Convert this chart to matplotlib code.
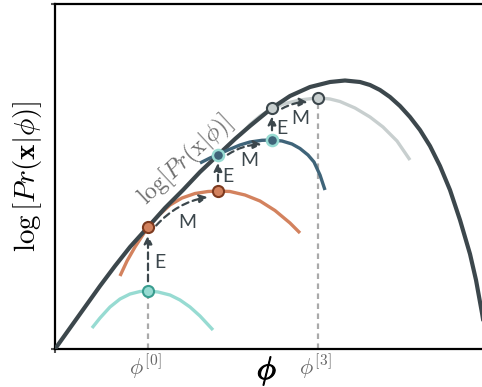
import numpy as np
import matplotlib
matplotlib.use("Agg")
import matplotlib.pyplot as plt
import matplotlib.patheffects as pe

plt.rcParams['mathtext.fontset'] = 'cm'

# log likelihood curve
phi_main = [0, .15, .30, .45, .60, .75, .93, 1.10, 1.28, 1.45, 1.63, 1.80, 1.95, 2.17, 2.35,
            2.55, 2.75, 2.90, 3.05, 3.15, 3.25, 3.35, 3.45, 3.55, 3.65, 3.75, 3.85, 3.95,
            4.05, 4.15, 4.21, 4.27, 4.33]
ll_main = [0, .21, .42, .63, .83, 1.02, 1.22, 1.41, 1.59, 1.77, 1.94, 2.10, 2.23, 2.41, 2.53,
           2.62, 2.67, 2.685, 2.67, 2.64, 2.59, 2.52, 2.43, 2.32, 2.19, 2.03, 1.83, 1.59,
           1.29, 0.95, 0.69, 0.36, 0.0]

# lower bounds for each iteration
phi_lb0 = [.37, .45, .55, .65, .75, .85, .93, 1.03, 1.15, 1.25, 1.35, 1.45, 1.58]
lb0 = [.21, .31, .42, .50, .55, .575, .58, .57, .54, .49, .42, .33, .19]
phi_lb1 = [.65, .72, .80, .93, 1.03, 1.15, 1.27, 1.40, 1.53, 1.63, 1.75, 1.90, 2.05, 2.20, 2.35, 2.45]
lb1 = [.73, .88, 1.02, 1.22, 1.33, 1.44, 1.51, 1.555, 1.575, 1.58, 1.575, 1.54, 1.48, 1.385, 1.26, 1.16]
phi_lb2 = [1.45, 1.55, 1.63, 1.73, 1.85, 1.95, 2.07, 2.17, 2.27, 2.37, 2.45, 2.53, 2.59, 2.65, 2.70]
lb2 = [1.86, 1.91, 1.945, 1.99, 2.04, 2.07, 2.087, 2.09, 2.08, 2.05, 2.005, 1.94, 1.87, 1.74, 1.59]
phi_lb3 = [1.85, 1.95, 2.05, 2.17, 2.30, 2.45, 2.57, 2.65, 2.75, 2.85, 3.00, 3.15, 3.28, 3.42, 3.55]
lb3 = [2.14, 2.245, 2.33, 2.405, 2.455, 2.49, 2.505, 2.51, 2.50, 2.475, 2.41, 2.32, 2.22, 2.08, 1.89]

# EM iterates
phi_iter = [0.93, 1.63, 2.17, 2.63]
lb_at_iter = [0.58, 1.58, 2.09, 2.51]   # bound value after M step
ll_at_iter = [1.22, 1.945, 2.41]        # after E step (touches curve)

dark = '#3c474c'
teal, teal_e = '#97dbd2', '#3a9d8f'
orange, orange_e = '#d3825e', '#7d3a1f'
blue = '#3f6479'
lgray = '#c8cfcf'

fig = plt.figure(figsize=(4.82, 3.87), dpi=100)
ax = fig.add_axes([55/482, 38/387, 440/482, 345/387])
ax.set_xlim(0, 4.40)
ax.set_ylim(0, 3.45)

# dotted guides
ax.plot([phi_iter[0]]*2, [0, lb_at_iter[0]], ls=(0, (2.5, 2)), color='#aaaaaa', lw=1.6, zorder=1)
ax.plot([phi_iter[3]]*2, [0, lb_at_iter[3]], ls=(0, (2.5, 2)), color='#aaaaaa', lw=1.6, zorder=1)

lkw = dict(lw=2.4, solid_capstyle='butt', solid_joinstyle='round')
ax.plot(phi_lb0, lb0, color=teal, zorder=2, **lkw)
ax.plot(phi_lb1, lb1, color=orange, zorder=2, **lkw)
ax.plot(phi_lb3, lb3, color=lgray, zorder=2, **lkw)
ax.plot(phi_main, ll_main, color=dark, lw=3, solid_joinstyle='round', zorder=3)
ax.plot(phi_lb2, lb2, color=blue, zorder=3.5, **lkw)

# arrows
aprops = dict(arrowstyle='-|>', linestyle=(0, (3, 2)), lw=1.6, color=dark,
              mutation_scale=12, shrinkA=7, shrinkB=6)
for i in range(3):
    # E step: straight up
    ax.annotate('', xy=(phi_iter[i], ll_at_iter[i]), xytext=(phi_iter[i], lb_at_iter[i]),
                arrowprops=aprops, zorder=4)
    # M step: curved along the bound
    ax.annotate('', xy=(phi_iter[i+1] - 0.02, lb_at_iter[i+1] - 0.05),
                xytext=(phi_iter[i] + 0.02, ll_at_iter[i] - 0.06),
                arrowprops=dict(aprops, connectionstyle='arc3,rad=-0.22'), zorder=4)

e_pos = [(1.05, 0.87), (1.73, 1.73), (2.27, 2.21)]
m_pos = [(1.32, 1.27), (1.94, 1.89), (2.45, 2.31)]
for (x, y) in e_pos:
    ax.text(x, y, 'E', color=dark, fontsize=14, family='Lato', ha='center', va='center', zorder=5)
for (x, y) in m_pos:
    ax.text(x, y, 'M', color=dark, fontsize=14, family='Lato', ha='center', va='center', zorder=5)

# points
ms = 8
ax.plot(phi_iter[0], lb_at_iter[0], 'o', ms=ms, mfc=teal, mec=teal_e, mew=1.5, zorder=6)
ax.plot(phi_iter[0], ll_at_iter[0], 'o', ms=ms, mfc=orange, mec=orange_e, mew=1.5, zorder=6)
ax.plot(phi_iter[1], lb_at_iter[1], 'o', ms=ms, mfc=orange, mec=orange_e, mew=1.5, zorder=6)
ax.plot(phi_iter[1], ll_at_iter[1], 'o', ms=ms, mfc=blue, mec=teal, mew=1.8, zorder=6)
ax.plot(phi_iter[2], lb_at_iter[2], 'o', ms=ms, mfc=blue, mec=teal, mew=1.8, zorder=6)
ax.plot(phi_iter[2], ll_at_iter[2], 'o', ms=ms, mfc=lgray, mec=dark, mew=1.5, zorder=6)
ax.plot(phi_iter[3], lb_at_iter[3], 'o', ms=ms, mfc=lgray, mec=dark, mew=1.5, zorder=6)

ax.text(1.31, 1.88, r'$\log[Pr(\mathrm{x}|\phi)]$', rotation=43, color='#6e6e6e',
        fontsize=17, ha='center', va='center', zorder=5)

# axes styling
for s in ['left', 'bottom', 'top', 'right']:
    ax.spines[s].set_linewidth(1.6)
    ax.spines[s].set_color('black')
ax.set_xticks([0])
ax.set_yticks([0, 3.45])
ax.set_xticklabels([])
ax.set_yticklabels([])
ax.tick_params(length=3, width=1.5, color='#555555')

ax.text(phi_iter[0] - 0.03, -0.18, r'$\phi^{[0]}$', color='#666666', fontsize=16, ha='center', va='center')
ax.text(phi_iter[3] - 0.03, -0.18, r'$\phi^{[3]}$', color='#666666', fontsize=16, ha='center', va='center')
ax.text(2.12, -0.22, r'$\phi$', color='black', fontsize=23, ha='center', va='center',
        path_effects=[pe.withStroke(linewidth=0.8, foreground='black')])

fig.text(27/482, 1 - 176/387, r'$\log\left[Pr(\mathbf{x}|\phi)\right]$', rotation=90,
         fontsize=21, ha='center', va='center')

fig.savefig('out.png', dpi=100)
